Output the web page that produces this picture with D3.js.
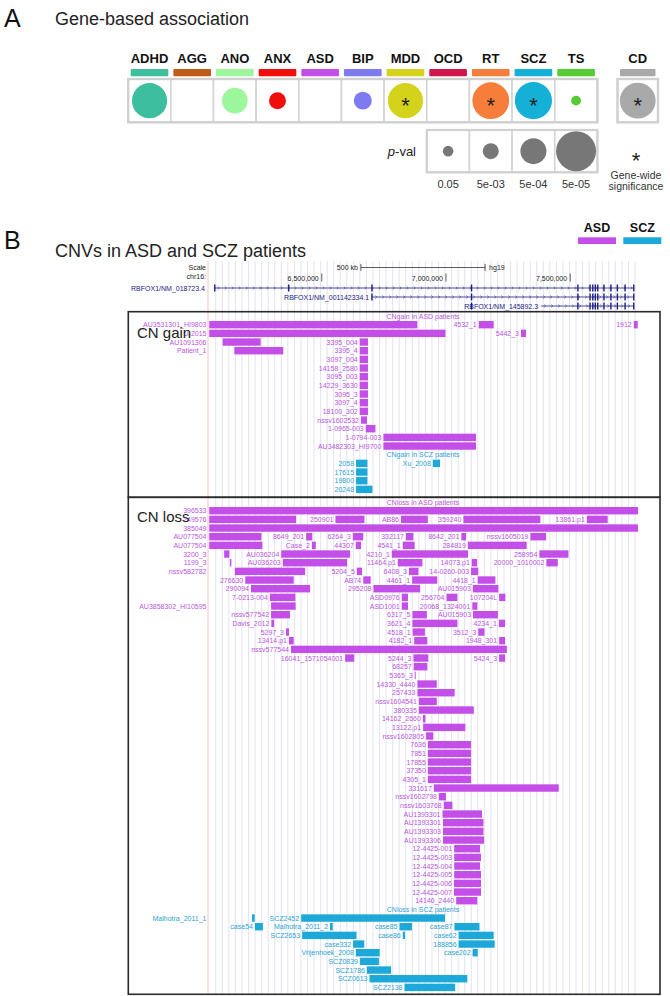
<!DOCTYPE html>
<html><head><meta charset="utf-8">
<script src="https://cdn.jsdelivr.net/npm/d3@7"></script>
<style>body{margin:0;background:#fff} svg{display:block;font-family:"Liberation Sans",Arial,Helvetica,sans-serif}</style>
</head><body><svg id="c" width="670" height="996"></svg>
<script>
// ---------- Panel A data ----------
const disorders = ["ADHD","AGG","ANO","ANX","ASD","BIP","MDD","OCD","RT","SCZ","TS"];
const disorderColors = ["#3dbf9f","#c05a18","#9cf79c","#f20d0d","#c34fe8","#7d7af2","#d4d21a","#d0164a","#f77d3a","#14b0d6","#55cc33"];
const pValues = [1.1e-4,null,5.5e-4,4e-3,null,3.2e-3,1.1e-4,null,8.5e-5,8e-5,0.07];
const geneWideSig = [false,false,false,false,false,false,true,false,true,true,false];
const cdName = "CD", cdColor = "#a9a9a9", cdP = 1e-4, cdSig = true;
const legendP = [0.05,5e-3,5e-4,5e-5];
const legendLabels = ["0.05","5e-03","5e-04","5e-05"];

// ---------- Panel B data (positions in Mb, chr16, hg19) ----------
const rulerTicks = [6.5,7.0,7.5];
const rulerTickLabels = ["6,500,000","7,000,000","7,500,000"];
const scaleBarMb = 0.5;
const transcriptNames = ["RBFOX1/NM_018723.4","RBFOX1/NM_001142334.1","RBFOX1/NM_145892.3"];
const transcriptStarts = [6.069,6.703,7.383];
const transcriptEnds = [7.757,7.757,7.757];
const exonsUpstream = [6.069,6.367,6.702];
const exonsShared = [7.103,7.531,7.580,7.591,7.601,7.611,7.636,7.664,7.690,7.721,7.756];

// [name, row, start, end]
const gainASD = [
 ["AU3531301_HI9803",0,6.047,6.885],["4532_1",0,7.132,7.192],["1912",0,7.756,7.772],
 ["U-2015",1,6.047,6.998],["5442_3",1,7.302,7.322],
 ["AU1091306",2,6.101,6.254],["3395_004",2,6.653,6.686],
 ["Patient_1",3,6.148,6.345],["3395_4",3,6.653,6.686],
 ["3097_004",4,6.653,6.686],["14158_2580",5,6.653,6.686],["3095_003",6,6.653,6.686],
 ["14229_3630",7,6.653,6.686],["3095_3",8,6.653,6.686],["3097_4",9,6.653,6.686],
 ["18100_302",10,6.653,6.686],["nssv1602532",11,6.658,6.682],["1-0965-003",12,6.677,6.716],
 ["1-0794-003",13,6.748,7.121],["AU3482303_HI9700",14,6.748,7.121]
];
const gainSCZ = [
 ["2058",0,6.638,6.684],["Xu_2008",0,6.947,6.976],["17615",1,6.638,6.684],
 ["19800",2,6.638,6.684],["20248",3,6.638,6.704]
];
const lossASD = [
 ["396533",0,6.047,7.773],
 ["249576",1,6.047,6.397],["250901",1,6.555,6.672],["AB86",1,6.819,6.927],["359240",1,7.070,7.380],["13861.p1",1,7.567,7.651],
 ["385049",2,6.047,7.773],
 ["AU077504",3,6.047,6.257],["8649_201",3,6.437,6.462],["6264_3",3,6.625,6.667],["332117",3,6.839,6.869],["8642_201",3,7.062,7.081],["nssv1605019",3,7.340,7.403],
 ["AU077504",4,6.047,6.261],["Case_2",4,6.460,6.476],["44307",4,6.637,6.658],["4541_1",4,6.826,6.874],["284819",4,7.088,7.325],
 ["3200_3",5,6.107,6.128],["AU036204",5,6.337,6.614],["4210_1",5,6.782,7.089],["258954",5,7.376,7.493],
 ["1199_3",6,6.130,6.136],["AU036203",6,6.343,6.602],["11464.p1",6,6.806,6.905],["14073.p1",6,7.104,7.125],["20000_1010002",6,7.404,7.450],
 ["nssv582782",7,6.150,6.433],["5204_5",7,6.641,6.662],["6408_3",7,6.851,6.889],["14-0260-003",7,7.101,7.130],
 ["276630",8,6.192,6.387],["AB74",8,6.667,6.697],["4461_1",8,6.864,6.965],["4418_1",8,7.128,7.199],
 ["290094",9,6.215,6.453],["295208",9,6.708,6.896],["AU015903",9,7.108,7.211],
 ["7-0213-004",10,6.291,6.394],["ASD0976",10,6.822,6.847],["256704",10,7.002,7.046],["107204L",10,7.214,7.239],
 ["AU3858302_HI10595",11,6.296,6.395],["ASD1001",11,6.822,6.847],["20068_1324001",11,7.106,7.126],
 ["nssv577542",12,6.296,6.372],["6317_5",12,6.865,6.923],["AU015903",12,7.109,7.209],
 ["Davis_2012",13,6.297,6.308],["3621_4",13,6.865,7.046],["4234_1",13,7.213,7.238],
 ["5297_3",14,6.356,6.368],["4518_1",14,6.866,6.915],["3512_3",14,7.130,7.155],
 ["13414.p1",15,6.368,6.387],["4182_1",15,6.872,6.925],["1948_301",15,7.214,7.238],
 ["nssv577544",16,6.376,7.245],
 ["16041_1571054001",17,6.594,6.631],["5244_3",17,6.869,6.929],["5424_3",17,7.214,7.238],
 ["68257",18,6.870,6.925],["5365_3",19,6.874,6.877],["14330_4440",20,6.885,6.963],
 ["257433",21,6.885,7.035],["nssv1604541",22,6.891,6.963],["380335",23,6.891,7.112],
 ["14162_2660",24,6.907,6.917],["13122.p1",25,6.908,7.078],["nssv1602805",26,6.920,6.949],
 ["7636",27,6.927,7.101],["7851",28,6.927,7.101],["17855",29,6.927,7.101],["37350",30,6.927,7.101],
 ["4305_1",31,6.927,7.101],["331617",32,6.951,7.454],["nssv1602798",33,6.972,7.000],
 ["nssv1603768",34,6.991,7.026],["AU1393301",35,6.986,7.145],["AU1393301",36,6.988,7.151],
 ["AU1393303",37,6.988,7.151],["AU1393306",38,6.988,7.153],["12-4425-001",39,7.033,7.137],
 ["12-4425-003",40,7.033,7.141],["12-4425-004",41,7.033,7.137],["12-4425-005",42,7.033,7.141],
 ["12-4425-006",43,7.032,7.141],["12-4425-007",44,7.032,7.141],["14146_2440",45,7.041,7.126]
];
const lossSCZ = [
 ["Malhotra_2011_1",0,6.219,6.230],["SCZ2452",0,6.417,6.996],
 ["case54",1,6.231,6.263],["Malhotra_2011_2",1,6.533,6.544],["case85",1,6.813,6.863],["case87",1,7.034,7.135],
 ["SCZ2653",2,6.421,6.640],["case86",2,6.826,6.835],["case62",2,7.051,7.192],
 ["case332",3,6.626,6.671],["188856",3,7.051,7.196],
 ["Vrijenhoek_2008",4,6.637,6.733],["case202",4,7.107,7.128],
 ["SCZ0839",5,6.654,6.730],["SCZ1786",6,6.682,6.779],["SCZ0613",7,6.692,7.086],["SCZ2138",8,6.833,7.037]
];
const gridStepMb = 0.02637;

// ---------- drawing ----------
const svg = d3.select("#c");
const ASDbar = "#c34ee8", ASDtxt = "#b957dd", SCZbar = "#1ca9d9", SCZtxt = "#2ea3cf";

// Panel A
svg.append("text").attr("x",4).attr("y",27).attr("font-size",25).attr("fill","#111").text("A");
svg.append("text").attr("x",55).attr("y",25).attr("font-size",18).attr("fill","#222").text("Gene-based association");

const xA = d3.scaleBand().domain(disorders).range([128.2,597.4]);
const bw = xA.bandwidth();
const rScale = d3.scaleLinear().domain(legendP.map(p=>-Math.log10(p))).range([5.3,8,13,20]);
const cellTop = 79, cellH = 43.3, cy = cellTop+cellH/2;
const cells = disorders.map((d,i)=>({name:d,color:disorderColors[i],p:pValues[i],sig:geneWideSig[i],x:xA(d),w:bw}));
cells.push({name:cdName,color:cdColor,p:cdP,sig:cdSig,x:617.5,w:40.5});

const gA = svg.append("g");
gA.selectAll("text.hdr").data(cells).join("text").attr("class","hdr")
  .attr("x",d=>d.x+d.w/2).attr("y",63.3).attr("text-anchor","middle")
  .attr("font-size",13).attr("font-weight","bold").attr("fill","#111").text(d=>d.name);
gA.selectAll("rect.cb").data(cells).join("rect").attr("class","cb")
  .attr("x",d=>d.x+2.5).attr("y",69).attr("width",d=>d.w-5).attr("height",7.3).attr("rx",1).attr("fill",d=>d.color);
gA.selectAll("rect.cell").data(cells).join("rect").attr("class","cell")
  .attr("x",d=>d.x).attr("y",cellTop).attr("width",d=>d.w).attr("height",cellH)
  .attr("fill","#fff").attr("stroke","#d4d4d4").attr("stroke-width",1.6);
gA.append("rect").attr("x",128.2).attr("y",cellTop).attr("width",597.4-128.2).attr("height",cellH)
  .attr("fill","none").attr("stroke","#d0d0d0").attr("stroke-width",2.4);
gA.append("rect").attr("x",617.5).attr("y",cellTop).attr("width",40.5).attr("height",cellH)
  .attr("fill","none").attr("stroke","#d0d0d0").attr("stroke-width",2.4);
gA.selectAll("circle.pc").data(cells.filter(d=>d.p!=null)).join("circle").attr("class","pc")
  .attr("cx",d=>d.x+d.w/2).attr("cy",cy).attr("r",d=>rScale(-Math.log10(d.p))).attr("fill",d=>d.color);
gA.selectAll("text.star").data(cells.filter(d=>d.sig)).join("text").attr("class","star")
  .attr("x",d=>d.x+d.w/2).attr("y",cy+12.5).attr("text-anchor","middle").attr("font-size",22).attr("fill","#222").text("*");

// p-value legend
const legCols = ["OCD","RT","SCZ","TS"];
const pTop = 130, pH = 42.3;
const legG = svg.append("g");
legG.selectAll("rect").data(legendP).join("rect")
  .attr("x",(d,i)=>xA(legCols[i])).attr("y",pTop).attr("width",bw).attr("height",pH)
  .attr("fill","#fff").attr("stroke","#d4d4d4").attr("stroke-width",1.6);
legG.append("rect").attr("x",xA("OCD")).attr("y",pTop).attr("width",bw*4).attr("height",pH)
  .attr("fill","none").attr("stroke","#d0d0d0").attr("stroke-width",2.2);
legG.selectAll("circle").data(legendP).join("circle")
  .attr("cx",(d,i)=>xA(legCols[i])+bw/2).attr("cy",pTop+pH/2).attr("r",d=>rScale(-Math.log10(d))).attr("fill","#777");
legG.selectAll("text.lab").data(legendLabels).join("text").attr("class","lab")
  .attr("x",(d,i)=>xA(legCols[i])+bw/2).attr("y",188).attr("text-anchor","middle").attr("font-size",11).attr("fill","#333").text(d=>d);
const pv = legG.append("text").attr("x",416).attr("y",156).attr("text-anchor","end").attr("font-size",13).attr("fill","#222");
pv.append("tspan").attr("font-style","italic").text("p");
pv.append("tspan").text("-val");
legG.append("text").attr("x",636).attr("y",168).attr("text-anchor","middle").attr("font-size",22).attr("fill","#222").text("*");
legG.append("text").attr("x",636).attr("y",178.5).attr("text-anchor","middle").attr("font-size",10.5).attr("fill","#333").text("Gene-wide");
legG.append("text").attr("x",636).attr("y",189.5).attr("text-anchor","middle").attr("font-size",10.5).attr("fill","#333").text("significance");

// Panel B header
svg.append("text").attr("x",4).attr("y",249).attr("font-size",25).attr("fill","#111").text("B");
svg.append("text").attr("x",55).attr("y",257).attr("font-size",18).attr("fill","#222").text("CNVs in ASD and SCZ patients");
const legB = [{n:"ASD",c:ASDbar,x:578},{n:"SCZ",c:SCZbar,x:623.3}];
svg.selectAll("text.lb").data(legB).join("text").attr("class","lb")
  .attr("x",d=>d.x+19).attr("y",231.5).attr("text-anchor","middle").attr("font-size",12.5).attr("font-weight","bold").attr("fill","#111").text(d=>d.n);
svg.selectAll("rect.lb").data(legB).join("rect").attr("class","lb")
  .attr("x",d=>d.x).attr("y",237.3).attr("width",38).attr("height",6.7).attr("fill",d=>d.c);

// Genome browser
const X0 = 208, X1 = 638;
const x = d3.scaleLinear().domain([6.042,7.773]).range([X0,X1]).clamp(true);
const gB = svg.append("g");
const gridTop = 261, gridBot = 994;
const gridPos = d3.range(6.0733, 7.773, gridStepMb);
gB.selectAll("line.grid").data(gridPos).join("line").attr("class","grid")
  .attr("x1",d=>x(d)).attr("x2",d=>x(d)).attr("y1",gridTop).attr("y2",gridBot)
  .attr("stroke","#e2e2f2").attr("stroke-width",1);
gB.append("line").attr("x1",X0).attr("x2",X0).attr("y1",gridTop).attr("y2",gridBot).attr("stroke","#f4c4c4").attr("stroke-width",1);

// ruler
const fs = 7;
gB.append("text").attr("x",206).attr("y",270).attr("text-anchor","end").attr("font-size",fs).attr("fill","#222").text("Scale");
gB.append("text").attr("x",206).attr("y",279).attr("text-anchor","end").attr("font-size",fs).attr("fill","#222").text("chr16:");
const mid = (x.domain()[0]+x.domain()[1])/2;
const sb0 = x(mid-scaleBarMb/2), sb1 = x(mid+scaleBarMb/2);
gB.append("line").attr("x1",sb0).attr("x2",sb1).attr("y1",267.5).attr("y2",267.5).attr("stroke","#333").attr("stroke-width",0.8);
[sb0,sb1].forEach(v=>gB.append("line").attr("x1",v).attr("x2",v).attr("y1",264).attr("y2",271).attr("stroke","#333").attr("stroke-width",0.8));
gB.append("text").attr("x",sb0-3).attr("y",270).attr("text-anchor","end").attr("font-size",fs).attr("fill","#222").text((scaleBarMb*1000)+" kb");
gB.append("text").attr("x",sb1+4).attr("y",270).attr("font-size",fs).attr("fill","#222").text("hg19");
gB.selectAll("line.rt").data(rulerTicks).join("line").attr("class","rt")
  .attr("x1",d=>x(d)).attr("x2",d=>x(d)).attr("y1",273.5).attr("y2",281.5).attr("stroke","#333").attr("stroke-width",0.8);
gB.selectAll("text.rt").data(rulerTicks).join("text").attr("class","rt")
  .attr("x",d=>x(d)-3).attr("y",280.5).attr("text-anchor","end").attr("font-size",fs).attr("fill","#222")
  .text((d,i)=>rulerTickLabels[i]);

// transcripts
const navy = "#1c1c84";
const tY = [288,297,306];
transcriptNames.forEach((nm,i)=>{
  const y = tY[i], s = transcriptStarts[i], e = transcriptEnds[i];
  gB.append("line").attr("x1",x(s)).attr("x2",x(e)).attr("y1",y).attr("y2",y).attr("stroke",navy).attr("stroke-width",0.8);
  const arrows = d3.range(x(s)+4, x(e)-2, 7);
  gB.selectAll(null).data(arrows).join("path")
    .attr("d",a=>`M${a-1},${y-1.5}L${a+0.6},${y}L${a-1},${y+1.5}`).attr("fill","none").attr("stroke",navy).attr("stroke-width",0.5);
  const ex = exonsUpstream.filter(v=>v>=s-0.001).concat(exonsShared);
  gB.selectAll(null).data(ex).join("rect")
    .attr("x",v=>x(v)-0.7).attr("y",y-3.5).attr("width",1.4).attr("height",7).attr("fill",navy);
  const t = gB.append("text").attr("y",y+2.5).attr("text-anchor","end").attr("font-size",fs).attr("fill",navy).text(nm);
  const w = t.node().getComputedTextLength();
  t.attr("x", (x(s)-3-w < X0+1) ? 205 : x(s)-3);
});

// boxes
const boxL = 128.3, boxR = 660, gainTop = 311.7, split = 497.3, lossBot = 994.3;
const ROW = 8.667;

function section(items, rowOffset, yBase, barC, txtC){
  const g = gB.append("g");
  g.selectAll("rect").data(items).join("rect")
    .attr("x",d=>x(d[2])).attr("y",d=>yBase+(d[1]+rowOffset)*ROW-3.7)
    .attr("width",d=>Math.max(1,x(d[3])-x(d[2]))).attr("height",7.4).attr("fill",barC);
  g.selectAll("text").data(items).join("text")
    .attr("y",d=>yBase+(d[1]+rowOffset)*ROW+2.5).attr("text-anchor","end")
    .attr("font-size",fs).attr("fill",txtC).text(d=>d[0])
    .each(function(d){
      const w = this.getComputedTextLength(), xs = x(d[2]);
      d3.select(this).attr("x", (xs-2-w < X0+1) ? X0-1.5 : xs-2);
    });
}
function trackLabel(text, y, c){
  gB.append("text").attr("x",(X0+X1)/2).attr("y",y+2.5).attr("text-anchor","middle").attr("font-size",fs).attr("fill",c).text(text);
}
const gainY0 = 324.7, lossY0 = 510.7;
trackLabel("CNgain in ASD patients", gainY0-ROW, ASDtxt);
section(gainASD, 0, gainY0, ASDbar, ASDtxt);
const gOff = d3.max(gainASD,d=>d[1])+2;
trackLabel("CNgain in SCZ patients", gainY0+(gOff-1)*ROW, SCZtxt);
section(gainSCZ, gOff, gainY0, SCZbar, SCZtxt);

trackLabel("CNloss in ASD patients", lossY0-ROW, ASDtxt);
section(lossASD, 0, lossY0, ASDbar, ASDtxt);
const lOff = d3.max(lossASD,d=>d[1])+2;
trackLabel("CNloss in SCZ patients", lossY0+(lOff-1)*ROW, SCZtxt);
section(lossSCZ, lOff, lossY0, SCZbar, SCZtxt);

gB.append("rect").attr("x",boxL).attr("y",gainTop).attr("width",boxR-boxL).attr("height",split-gainTop)
  .attr("fill","none").attr("stroke","#2a2a2a").attr("stroke-width",1.6);
gB.append("rect").attr("x",boxL).attr("y",split).attr("width",boxR-boxL).attr("height",lossBot-split)
  .attr("fill","none").attr("stroke","#2a2a2a").attr("stroke-width",1.6);
gB.append("text").attr("x",137).attr("y",338).attr("font-size",15).attr("fill","#222").text("CN gain");
gB.append("text").attr("x",137).attr("y",522).attr("font-size",15).attr("fill","#222").text("CN loss");
</script></body></html>
